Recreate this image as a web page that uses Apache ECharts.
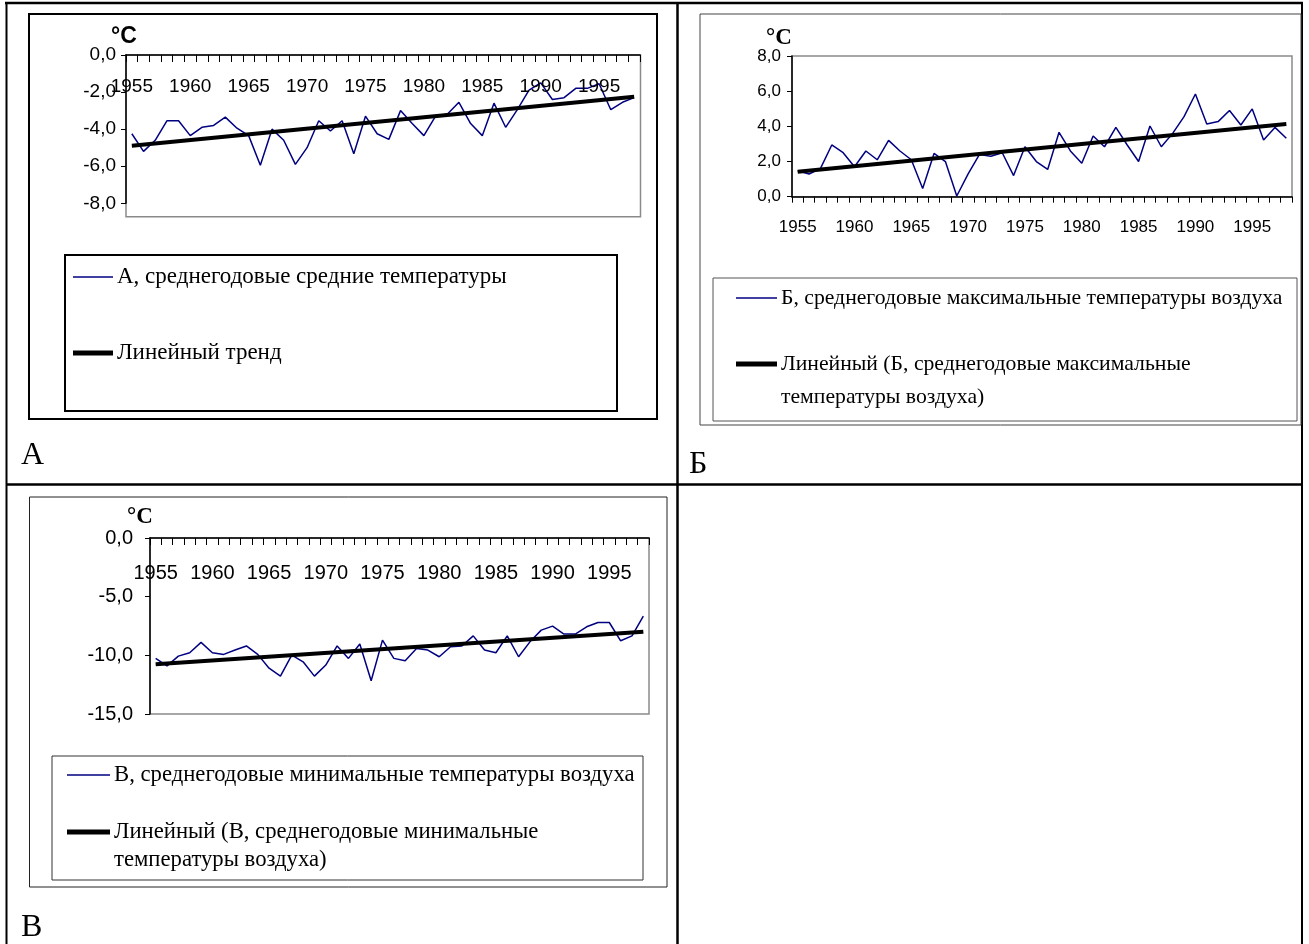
<!DOCTYPE html>
<html>
<head>
<meta charset="utf-8">
<script src="https://cdn.jsdelivr.net/npm/echarts@6/dist/echarts.min.js"></script>
<style>
  html, body { margin: 0; padding: 0; background: #fff; }
  #chart { width: 1309px; height: 944px; }
</style>
</head>
<body>
<div id="chart"></div>
<script>
// Years of observation
const years = ['1955','1956','1957','1958','1959','1960','1961','1962','1963','1964',
  '1965','1966','1967','1968','1969','1970','1971','1972','1973','1974',
  '1975','1976','1977','1978','1979','1980','1981','1982','1983','1984',
  '1985','1986','1987','1988','1989','1990','1991','1992','1993','1994',
  '1995','1996','1997','1998'];

// А: mean annual average temperature, °C
const meanTemp = [-4.25,-5.2,-4.6,-3.55,-3.55,-4.35,-3.9,-3.8,-3.35,-3.95,
  -4.35,-5.95,-4.0,-4.6,-5.9,-5.0,-3.55,-4.1,-3.55,-5.33,
  -3.3,-4.25,-4.55,-3.0,-3.7,-4.35,-3.3,-3.2,-2.55,-3.7,
  -4.35,-2.6,-3.9,-2.95,-1.9,-1.5,-2.4,-2.3,-1.8,-1.8,
  -1.55,-2.95,-2.55,-2.3];
// Б: mean annual maximum air temperature, °C
const maxTemp = [1.48,1.29,1.6,2.94,2.5,1.7,2.6,2.1,3.2,2.6,
  2.1,0.47,2.46,2.0,0.04,1.3,2.4,2.3,2.5,1.2,
  2.84,2.0,1.55,3.66,2.6,1.9,3.45,2.84,3.94,2.94,
  2.0,4.02,2.84,3.6,4.55,5.84,4.13,4.27,4.9,4.08,
  4.99,3.22,3.94,3.32];
// В: mean annual minimum air temperature, °C
const minTemp = [-10.26,-10.9,-10.07,-9.78,-8.9,-9.78,-9.92,-9.55,-9.2,-9.92,
  -11.1,-11.77,-9.98,-10.55,-11.77,-10.83,-9.2,-10.26,-9.04,-12.16,
  -8.7,-10.26,-10.46,-9.41,-9.55,-10.12,-9.27,-9.2,-8.34,-9.55,
  -9.78,-8.34,-10.12,-8.85,-7.85,-7.51,-8.19,-8.19,-7.57,-7.2,
  -7.2,-8.76,-8.34,-6.66];

// Linear trend end values (first and last year)
const trendMean = [-4.9, -2.25];
const trendMax = [1.42, 4.13];
const trendMin = [-10.75, -8.0];

// Legend captions
const legendA = ['А, среднегодовые средние температуры', 'Линейный тренд'];
const legendB = ['Б, среднегодовые максимальные температуры воздуха',
  'Линейный (Б, среднегодовые максимальные', 'температуры воздуха)'];
const legendV = ['В, среднегодовые минимальные температуры воздуха',
  'Линейный (В, среднегодовые минимальные', 'температуры воздуха)'];

const SANS = 'Liberation Sans, Arial, sans-serif';
const SERIF = 'Liberation Serif, Times New Roman, serif';
const NAVY = '#000080';

const fmt = v => v.toFixed(1).replace('.', ',');
const trendData = t => [[0, t[0]], [years.length - 1, t[1]]];

function xAxisCfg(gridIndex, top, fontSize, margin, tickLen) {
  return {
    type: 'category', gridIndex, data: years, boundaryGap: true,
    position: top ? 'top' : 'bottom',
    axisLine: { show: true, onZero: false, lineStyle: { color: '#000', width: 1.5 } },
    axisTick: { show: true, interval: 0, inside: top, length: tickLen, lineStyle: { color: '#000', width: 1 } },
    axisLabel: { interval: 4, inside: top, margin, color: '#000', fontFamily: SANS, fontSize },
    splitLine: { show: false }, z: 5
  };
}
function yAxisCfg(gridIndex, min, max, interval, fontSize, margin) {
  return {
    type: 'value', gridIndex, min, max, interval,
    axisLine: { show: true, onZero: false, lineStyle: { color: '#000', width: 1.5 } },
    axisTick: { show: true, length: 5, lineStyle: { color: '#000' } },
    axisLabel: { formatter: fmt, color: '#000', fontFamily: SANS, fontSize, margin },
    splitLine: { show: false }, z: 5
  };
}
function lineSeries(idx, data, color, width, name) {
  return {
    type: 'line', name, xAxisIndex: idx, yAxisIndex: idx, data,
    showSymbol: false, symbol: 'none', silent: true, animation: false,
    lineStyle: { color, width }, z: 3
  };
}

const rect = (x, y, w, h, stroke, lw, z) => ({
  type: 'rect', shape: { x, y, width: w, height: h }, z: z || 1, silent: true,
  style: { fill: null, stroke, lineWidth: lw }
});
const line = (x1, y1, x2, y2, stroke, lw, z) => ({
  type: 'line', shape: { x1, y1, x2, y2 }, z: z || 1, silent: true,
  style: { stroke, lineWidth: lw }
});
const text = (x, y, str, font, extra) => ({
  type: 'text', x, y, z: 10, silent: true,
  style: Object.assign({ text: str, font, fill: '#000', textVerticalAlign: 'middle', textAlign: 'left' }, extra || {})
});

const graphics = [
  // table rules
  line(5, 3, 1303, 3, '#000', 2.5),
  line(6.5, 2, 6.5, 944, '#000', 2),
  line(1302, 2, 1302, 944, '#000', 2),
  line(677.5, 2, 677.5, 944, '#000', 2.5),
  line(6, 484.5, 1303, 484.5, '#000', 2.5),

  // chart А frame, plot border, legend
  rect(29, 14, 628, 405, '#000', 2),
  rect(126, 55, 514.5, 161.7, '#8a8a8a', 1.5, 0),
  rect(65, 255, 552, 156, '#000', 2),
  line(73, 277, 113, 277, NAVY, 1.5),
  line(73, 353, 113, 353, '#000', 5),
  text(117, 277, legendA[0], '23px ' + SERIF),
  text(117, 353, legendA[1], '23px ' + SERIF),
  text(111, 37, '°C', 'bold 23px ' + SANS),
  text(21, 456, 'А', '32px ' + SERIF),

  // chart Б frame, legend
  rect(700, 14, 601, 411, '#444', 1),
  rect(713, 278, 584, 143, '#555', 1),
  line(736, 298, 777, 298, NAVY, 1.5),
  line(736, 364, 777, 364, '#000', 5),
  text(781, 298, legendB[0], '21.7px ' + SERIF),
  text(781, 364, legendB[1], '21.7px ' + SERIF),
  text(781, 397, legendB[2], '21.7px ' + SERIF),
  text(766, 38, '°C', 'bold 23px ' + SERIF),
  text(689, 465, 'Б', '32px ' + SERIF),

  // chart В frame, legend
  rect(29.5, 497, 637.5, 390, '#222', 1),
  rect(52, 756, 591, 124, '#333', 1),
  line(67, 775, 110, 775, NAVY, 1.5),
  line(67, 832, 110, 832, '#000', 5),
  text(114, 775, legendV[0], '22.7px ' + SERIF),
  text(114, 832, legendV[1], '22.7px ' + SERIF),
  text(114, 860, legendV[2], '22.7px ' + SERIF),
  text(127, 517, '°C', 'bold 23px ' + SERIF),
  text(21, 928, 'В', '32px ' + SERIF)
];

const chart = echarts.init(document.getElementById('chart'), null, { renderer: 'canvas' });
chart.setOption({
  animation: false,
  backgroundColor: '#fff',
  grid: [
    { left: 126, top: 55, width: 514, height: 148.3, show: false },
    { left: 792, top: 56, width: 500, height: 140.7, show: true, borderColor: '#8a8a8a', borderWidth: 1.5 },
    { left: 150, top: 538, width: 499, height: 176, show: true, borderColor: '#8a8a8a', borderWidth: 1.5 }
  ],
  xAxis: [
    xAxisCfg(0, true, 19, 22, 7),
    xAxisCfg(1, false, 17, 22, 6),
    xAxisCfg(2, true, 20, 25, 7)
  ],
  yAxis: [
    yAxisCfg(0, -8, 0, 2, 19, 10),
    yAxisCfg(1, 0, 8, 2, 17, 11),
    yAxisCfg(2, -15, 0, 5, 20, 17)
  ],
  series: [
    lineSeries(0, meanTemp, NAVY, 1.5, legendA[0]),
    lineSeries(0, trendData(trendMean), '#000', 4, legendA[1]),
    lineSeries(1, maxTemp, NAVY, 1.5, legendB[0]),
    lineSeries(1, trendData(trendMax), '#000', 4, legendB[1]),
    lineSeries(2, minTemp, NAVY, 1.5, legendV[0]),
    lineSeries(2, trendData(trendMin), '#000', 4, legendV[1])
  ],
  graphic: graphics
});
</script>
</body>
</html>
